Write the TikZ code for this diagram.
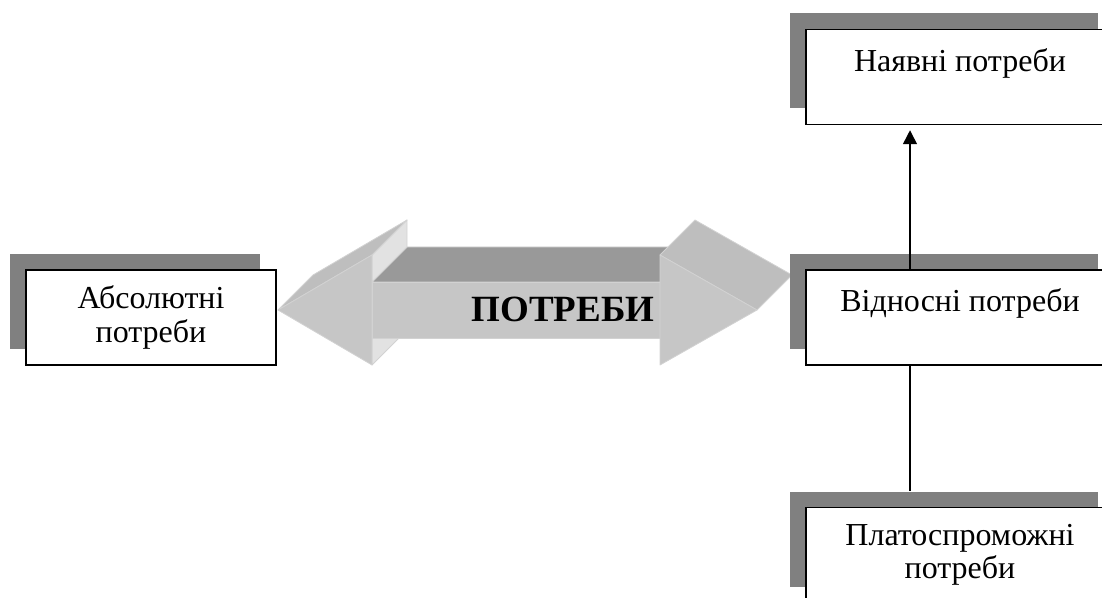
\documentclass[tikz,border=0pt]{standalone}
\usepackage{fontspec}
\setmainfont{Liberation Serif}
\usetikzlibrary{shadows,arrows.meta}
\definecolor{boxshadow}{HTML}{808080}
\definecolor{arrowfront}{HTML}{C6C6C6}
\definecolor{arrowtop}{HTML}{999999}
\definecolor{arrowside}{HTML}{E2E2E2}
\definecolor{arrowhead}{HTML}{BEBEBE}
\definecolor{arrowedge}{HTML}{D2D2D2}

\begin{document}
\begin{tikzpicture}[x=0.5pt,y=-0.5pt,
  needbox/.style={draw=black, line width=0.75pt, fill=white, inner sep=0pt, align=center,
    minimum height=47.5pt, font=\fontsize{16pt}{16.8pt}\selectfont,
    general shadow={fill=boxshadow, shadow xshift=-8pt, shadow yshift=8pt}},
  oneline/.style={text height=11pt, text depth=16.5pt},
  needline/.style={line width=0.75pt},
  face/.style={draw=arrowedge, line width=0.4pt, line join=round}]
\useasboundingbox (0,0) rectangle (1102,598);

\path[face, fill=arrowtop] (372,282) -- (660,282) -- (695,247) -- (407,247) -- cycle;
\path[face, fill=arrowside] (372,255) -- (407,220) -- (407,247) -- (372,282) -- cycle;
\path[face, fill=arrowside] (372,338) -- (407,303) -- (407,330) -- (372,365) -- cycle;
\path[face, fill=arrowhead] (278,310) -- (372,255) -- (407,220) -- (313,275) -- cycle;
\path[face, fill=arrowhead] (660,255) -- (695,220) -- (792,275) -- (757,310) -- cycle;
\path[face, fill=arrowfront] (278,310) -- (372,255) -- (372,365) -- cycle;
\path[face, fill=arrowfront] (372,282) rectangle (660,338);
\path[face, fill=arrowfront] (660,255) -- (757,310) -- (660,365) -- cycle;

\node[font=\fontsize{18.5pt}{20pt}\selectfont\bfseries] (needs) at (563,309) {ПОТРЕБИ};

\node[needbox, minimum width=125pt] (absolute) at (151,317.5) {Абсолютні\\потреби};
\node[needbox, oneline, minimum width=154pt] (present) at (960,77) {Наявні потреби};
\node[needbox, oneline, minimum width=154pt] (relative) at (960,317.5) {Відносні потреби};
\node[needbox, minimum width=154pt] (solvent) at (960,555) {Платоспроможні\\потреби};

\draw[needline, -{Triangle[length=7pt, width=7pt]}, shorten >=2.5pt] ([xshift=-25pt]relative.north) -- ([xshift=-25pt]present.south);
\draw[needline] ([xshift=-25pt]relative.south) -- ([xshift=-25pt, yshift=8pt]solvent.north);
\end{tikzpicture}
\end{document}
